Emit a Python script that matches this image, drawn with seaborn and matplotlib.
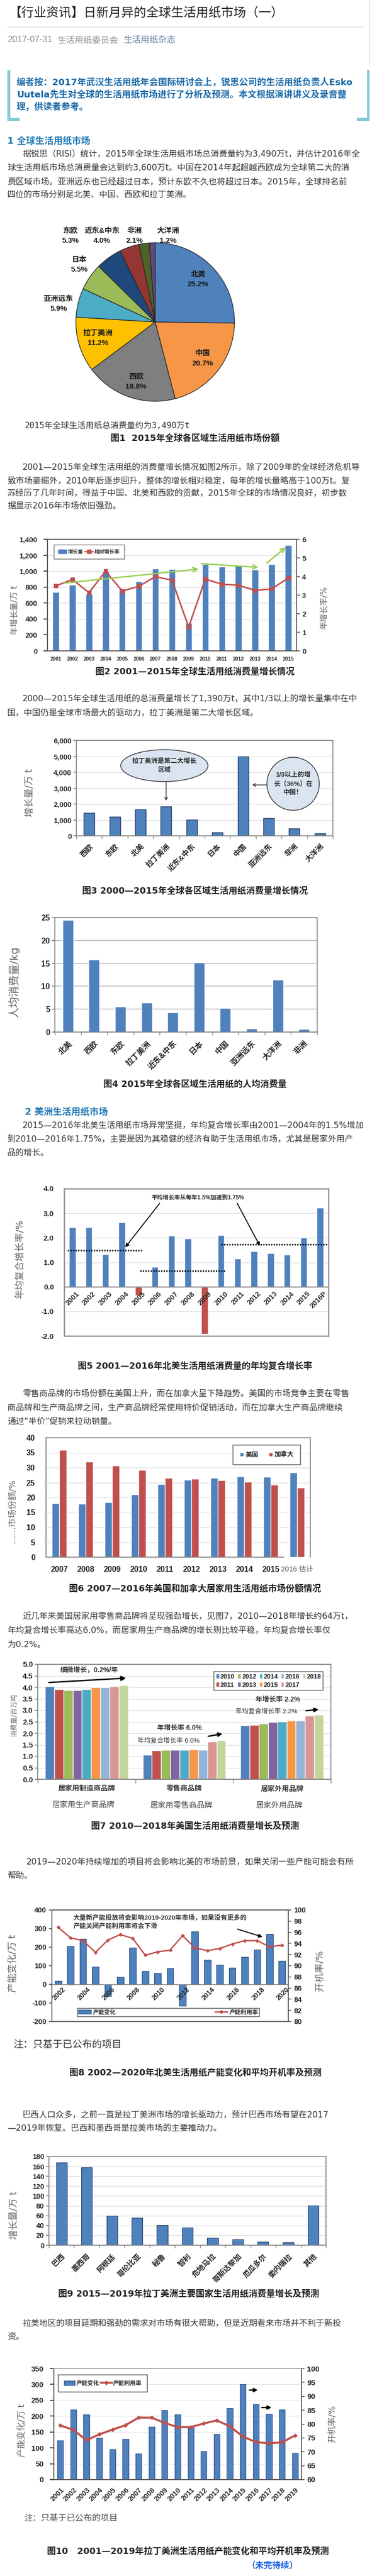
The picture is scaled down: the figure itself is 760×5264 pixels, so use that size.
import matplotlib
matplotlib.use("Agg")
import matplotlib.pyplot as plt
import matplotlib.transforms as mtransforms
from matplotlib.patches import Ellipse, Patch, Rectangle
from matplotlib.lines import Line2D
from matplotlib.font_manager import FontProperties
import seaborn as sns
import pandas as pd
import numpy as np

# ---------------- values ----------------
# fig1 - share of world tissue consumption 2015 (%)
pie_regions = ["北美", "中国", "西欧", "拉丁美洲", "亚洲远东", "日本", "东欧", "近东&中东", "非洲", "大洋洲"]
pie_shares = [25.2, 20.7, 18.8, 11.2, 5.9, 5.5, 5.3, 4.0, 2.1, 1.2]

# fig2 - yearly growth (bars, left) and growth rate (line, right)
years2 = [str(y) for y in range(2001, 2016)]
growth2 = [735, 830, 714, 995, 780, 874, 1034, 1025, 350, 1088, 1056, 1077, 1021, 1088, 1329]
rate2 = [3.49, 3.84, 3.13, 4.28, 3.22, 3.47, 3.99, 3.80, 1.28, 3.86, 3.58, 3.53, 3.25, 3.33, 3.92]

# fig3 - growth 2000-2015 by region
regions3 = ["西欧", "东欧", "北美", "拉丁美洲", "近东&中东", "日本", "中国", "亚洲远东", "非洲", "大洋洲"]
growth3 = [1455, 1185, 1650, 1835, 1010, 215, 4980, 1095, 465, 145]

# fig4 - per capita consumption 2015 (kg)
regions4 = ["北美", "西欧", "东欧", "拉丁美洲", "近东&中东", "日本", "中国", "亚洲远东", "大洋洲", "非洲"]
percap4 = [24.5, 15.8, 5.6, 6.4, 4.3, 15.2, 5.25, 0.8, 11.4, 0.6]

# fig5 - North America CAGR (%)
years5 = [str(y) for y in range(2001, 2016)] + ["2016P"]
cagr5 = [2.43, 2.42, 1.32, 2.63, -0.34, 0.81, 2.09, 1.97, -1.92, 2.11, 1.14, 1.45, 1.36, 1.31, 2.01, 3.22]
avg5 = [1.48, 0.66, 1.73]
avg5_from = [-0.3, 4.1, 9.0]
avg5_to = [4.2, 9.3, 15.5]

# fig6 - retail brand share, US vs Canada (%)
years6 = [str(y) for y in range(2007, 2016)] + ["2016 估计"]
us6 = [18.0, 17.9, 18.4, 21.0, 24.4, 25.9, 26.6, 27.0, 26.9, 28.3]
ca6 = [35.9, 31.9, 30.7, 29.2, 26.5, 26.2, 25.8, 25.2, 24.3, 23.2]

# fig7 - US consumption by segment
years7 = [str(y) for y in range(2010, 2019)]
groups7 = ["居家用制造商品牌", "零售商品牌", "居家外用品牌"]
groups7_cn = ["居家用生产商品牌", "居家用零售商品牌", "居家外用品牌"]
mfr7 = [4.04, 3.91, 3.88, 3.87, 3.91, 3.99, 4.01, 4.05, 4.09]
retail7 = [1.06, 1.25, 1.28, 1.28, 1.28, 1.30, 1.28, 1.63, 1.70]
afh7 = [2.34, 2.37, 2.42, 2.48, 2.52, 2.56, 2.56, 2.77, 2.80]

# fig8 - North America capacity change and utilisation
years8 = [str(y) for y in range(2002, 2021)]
cap8 = [19, 205, 245, 94, -62, 40, 198, 70, 60, 87, -115, 284, 132, 106, 89, 148, 187, 271, 126]
util8 = [96.9, 95.0, 94.5, 92.4, 94.6, 95.6, 94.9, 91.9, 92.5, 92.8, 95.4, 93.2, 92.7, 93.1, 93.9, 94.5, 94.5, 93.4, 93.7]

# fig9 - Latin America growth by country
countries9 = ["巴西", "墨西哥", "阿根廷", "哥伦比亚", "秘鲁", "智利", "危地马拉", "哥斯达黎加", "厄瓜多尔", "委内瑞拉", "其他"]
growth9 = [168, 158, 60, 56, 41, 36, 15, 11.5, 6.5, 5.5, 81]

# fig10 - Latin America capacity change and utilisation
years10 = [str(y) for y in range(2001, 2020)]
cap10 = [123, 221, 205, 131, 95, 128, 81, 166, 219, 205, 168, 89, 144, 225, 301, 238, 207, 221, 83]
util10 = [79.5, 77.9, 74.2, 76.3, 78.0, 79.6, 82.3, 82.3, 80.4, 78.9, 78.9, 80.2, 81.3, 79.2, 75.5, 73.5, 73.1, 73.4, 75.9]

# ---------------- style ----------------
W, H = 760, 5264
BLUE = "#4f81bd"
RED = "#c0504d"
TXT = "#333333"
HEAD = "#1f78b4"
CJK = "Noto Sans CJK SC"
BODY = ["DejaVu Sans", CJK]
CHART = ["Liberation Sans", CJK]
MONO = ["DejaVu Sans Mono", CJK]
pie_colors = ["#4f81bd", "#f79646", "#7f7f7f", "#ffc000", "#4bacc6", "#9bbb59", "#1f497d", "#943634", "#4f6228", "#5f497a"]
colors7 = ["#4f81bd", "#c0504d", "#9bbb59", "#8064a2", "#4bacc6", "#f79646", "#95b3d7", "#d99694", "#c3d69b"]

sns.set_theme(style="white")
plt.rcParams["font.family"] = BODY
plt.rcParams["axes.unicode_minus"] = False

fig = plt.figure(figsize=(W / 100, H / 100), dpi=100, facecolor="white")


def fx(x):
    return x / W


def fy(y):
    return 1 - y / H


def put(x, y, s, size=12.3, color=TXT, weight="normal", ha="left", va="center", family=BODY, rotation=0, **kw):
    fig.text(fx(x), fy(y), s, fontsize=size, color=color, fontweight=weight, ha=ha, va=va,
             family=family, rotation=rotation, **kw)


def add_ax(x0, y0, x1, y1):
    return fig.add_axes([fx(x0), fy(y1), (x1 - x0) / W, (y1 - y0) / H])


def box(x0, y0, x1, y1, color):
    fig.add_artist(Rectangle((fx(x0), fy(y1)), (x1 - x0) / W, (y1 - y0) / H,
                             transform=fig.transFigure, color=color, lw=0))


def paragraph(lines, ys, x_first=46, x_rest=15):
    for i, (s, y) in enumerate(zip(lines, ys)):
        put(x_first if i == 0 else x_rest, y, s)


def caption(s, y, x=398):
    put(x, y, s, size=13, weight="bold", ha="center", color="#222222")


def ylab(x, y, s, size=13):
    put(x, y, s, size=size, color="#666666", ha="center", rotation=90)


def frame(ax, color="#7f7f7f", lw=1.0, sides=("left", "bottom", "right", "top")):
    for k, sp in ax.spines.items():
        sp.set_visible(k in sides)
        sp.set_color(color)
        sp.set_linewidth(lw)


def grid(ax, color="#d9d9d9", lw=0.8):
    ax.yaxis.grid(True, color=color, lw=lw)
    ax.xaxis.grid(False)
    ax.set_axisbelow(True)


def fonts(ax, size=10.5, axis="both", weight="bold"):
    labs = []
    if axis in ("x", "both"):
        labs += ax.get_xticklabels()
    if axis in ("y", "both"):
        labs += ax.get_yticklabels()
    for t in labs:
        t.set_fontsize(size)
        t.set_fontweight(weight)
        t.set_fontfamily(CHART)
        t.set_color("#262626")


def boundary_ticks(ax, n, length=4):
    ax.set_xticks(np.arange(-0.5, n, 1.0), minor=True)
    ax.tick_params(axis="x", which="minor", bottom=True, length=length, width=1, color="#808080")
    ax.tick_params(axis="x", which="major", bottom=False)


def arrow(ax, start, end, color="black", lw=1.5, style="-|>", ms=12):
    ax.annotate("", xy=end, xytext=start,
                arrowprops=dict(arrowstyle=style, color=color, lw=lw, mutation_scale=ms, shrinkA=0, shrinkB=0))


def fp(size, weight="bold", family=CHART):
    return FontProperties(family=family, weight=weight, size=size)


# ---------------- header ----------------
put(19, 27, "【行业资讯】日新月异的全球生活用纸市场（一）", size=18.4, color="#222222")
box(15, 54, 745, 55.5, "#e6e6e6")
box(754, 0, 755.5, 135, "#e6e6e6")
put(15, 82, "2017-07-31", size=13, color="#8c8c8c", family=["Liberation Sans", CJK])
put(117, 82, "生活用纸委员会", size=12.8, color="#8c8c8c")
put(252, 82, "生活用纸杂志", size=12.8, color="#607fa6")

# editor's note box
NOTE = "#84c8d3"
box(15, 143, 20.5, 247, NOTE)
box(15, 241, 40, 247, NOTE)
box(749.5, 143, 755, 247, NOTE)
box(729, 241, 755, 247, NOTE)
note_lines = ["编者按：2017年武汉生活用纸年会国际研讨会上，锐思公司的生活用纸负责人Esko",
              "Uutela先生对全球的生活用纸市场进行了分析及预测。本文根据演讲讲义及录音整",
              "理，供读者参考。"]
for s, y in zip(note_lines, [168, 193, 218]):
    put(34, y, s, size=13.2, weight="bold", color="#1a6aa8")

put(15, 288, "1 全球生活用纸市场", size=13.5, weight="bold", color=HEAD)
paragraph(["据锐思（RISI）统计，2015年全球生活用纸市场总消费量约为3,490万t，并估计2016年全",
           "球生活用纸市场总消费量会达到约3,600万t。中国在2014年起超越西欧成为全球第二大的消",
           "费区域市场。亚洲远东也已经超过日本，预计东欧不久也将超过日本。2015年，全球排名前",
           "四位的市场分别是北美、中国、西欧和拉丁美洲。"], [315, 343, 372, 398])

# ---------------- fig 1 pie ----------------
ax = add_ax(155, 496, 479, 820)
ax.pie(pie_shares, colors=pie_colors, startangle=90, counterclock=False,
       wedgeprops=dict(edgecolor="#262626", linewidth=1.0))
ax.set_xlim(-1, 1)
ax.set_ylim(-1, 1)
pie_label_xy = [(0.54, 0.54), (0.60, -0.46), (-0.24, -0.75), (-0.72, -0.20), (-1.22, 0.23),
                (-0.96, 0.72), (-1.07, 1.09), (-0.67, 1.09), (-0.26, 1.09), (0.16, 1.09)]
for name, v, (lx, ly) in zip(pie_regions, pie_shares, pie_label_xy):
    ax.text(lx, ly, f"{name}\n{v:.1f}%", ha="center", va="center", fontsize=11, fontweight="bold",
            family=CHART, color="#1a1a1a", linespacing=1.55)
put(51, 870, "2015年全球生活用纸总消费量约为3,490万t", size=12.2, family=MONO, color="#333333")
caption("图1  2015年全球各区域生活用纸市场份额", 897)

paragraph(["2001—2015年全球生活用纸的消费量增长情况如图2所示，除了2009年的全球经济危机导",
           "致市场萎缩外，2010年后逐步回升，整体的增长相对稳定，每年的增长量略高于100万t。复",
           "苏经历了几年时间，得益于中国、北美和西欧的贡献，2015年全球的市场情况良好，初步数",
           "据显示2016年市场依旧强劲。"], [955, 982, 1008, 1035])

# ---------------- fig 2 ----------------
ax = add_ax(97, 1102, 606, 1330)
sns.barplot(x=years2, y=growth2, color=BLUE, width=0.4, saturation=1, errorbar=None, ax=ax)
ax.set_ylim(0, 1400)
ax.set_yticks(range(0, 1401, 200), [f"{v:,}" for v in range(0, 1401, 200)])
grid(ax)
frame(ax, "#595959", 1.2)
ax.tick_params(axis="y", left=False, pad=9)
ax.tick_params(axis="x", bottom=False, pad=3)
axr = ax.twinx()
sns.lineplot(x=np.arange(len(years2)), y=rate2, ax=axr, color=RED, marker="s", markersize=6,
             markeredgecolor=RED, linewidth=2.2)
axr.set_ylim(0, 6)
axr.set_yticks(range(0, 7))
axr.tick_params(axis="y", right=True, length=5, width=1.2, color="#595959", pad=3)
frame(axr, "#595959", 1.2)
ax.set_xlim(-0.5, len(years2) - 0.5)
fonts(ax, 10.5, "y")
fonts(ax, 7.5, "x")
fonts(axr, 10.5, "y")
for start, end in [((0.5, 3.64), (8.6, 4.4)), ((8.75, 4.69), (12.2, 4.49)), ((12.7, 4.72), (13.85, 5.57))]:
    arrow(axr, start, end, color="#9acd50", lw=2, style="->", ms=16)
axr.legend([Patch(color=BLUE), Line2D([0], [0], color=RED, marker="s", lw=2)], ["增长量", "相对增长率"],
           loc="upper left", bbox_to_anchor=(0.015, 0.975), ncol=2, frameon=True, fancybox=False,
           edgecolor="#404040", prop=fp(7.5), handlelength=1.6, columnspacing=0.3, handletextpad=0.3,
           borderpad=0.9).get_frame().set_linewidth(1.0)
ylab(29, 1247, "年增长量/万 t", 12)
ylab(662, 1242, "年增长率/%", 12)
caption("图2 2001—2015年全球生活用纸消费量增长情况", 1373)

paragraph(["2000—2015年全球生活用纸的总消费量增长了1,390万t，其中1/3以上的增长量集中在中",
           "国，中国仍是全球市场最大的驱动力，拉丁美洲是第二大增长区域。"], [1428, 1457])

# ---------------- fig 3 ----------------
ax = add_ax(156, 1513, 680, 1708)
sns.barplot(x=regions3, y=growth3, color=BLUE, width=0.42, saturation=1, edgecolor="#1f3864",
            linewidth=1, errorbar=None, ax=ax)
ax.set_ylim(0, 6000)
ax.set_yticks(range(0, 6001, 1000), [f"{v:,}" for v in range(0, 6001, 1000)])
grid(ax)
frame(ax, "#808080", 1.2)
ax.tick_params(axis="y", left=True, length=4, color="#808080", pad=3)
boundary_ticks(ax, len(regions3))
ax.set_xticks(range(len(regions3)), regions3, rotation=45, ha="right", rotation_mode="anchor")
ax.tick_params(axis="x", which="major", pad=4)
fonts(ax, 10.5, "y")
fonts(ax, 11, "x")
ax.add_patch(Ellipse((2.93, 4414), 3.4, 2006, facecolor="#dbe5f1", edgecolor="#404040", lw=1.2))
ax.text(2.93, 4414, "拉丁美洲是第二大增长\n区域", ha="center", va="center", fontsize=9.5,
        fontweight="bold", family=CHART, color="#262626", linespacing=1.7)
ax.add_patch(Ellipse((7.95, 3272), 2.04, 3333, facecolor="#dbe5f1", edgecolor="#404040", lw=1.2))
ax.text(7.95, 3272, "1/3以上的增\n长（36%）在\n中国！", ha="center", va="center", fontsize=9.5,
        fontweight="bold", family=CHART, color="#262626", linespacing=1.6)
arrow(ax, (3.0, 3410), (3.0, 2200), color="#404040", lw=1.2, style="->", ms=10)
arrow(ax, (6.93, 3200), (6.35, 3200), color="#404040", lw=1.2, style="->", ms=10)
ylab(61, 1620, "增长量/万 t", 14)
caption("图3 2000—2015年全球各区域生活用纸消费量增长情况", 1822)

# ---------------- fig 4 ----------------
ax = add_ax(112, 1875, 648, 2109)
sns.barplot(x=regions4, y=percap4, color=BLUE, width=0.41, saturation=1, errorbar=None, ax=ax)
ax.set_ylim(0, 25)
ax.set_yticks(range(0, 26, 5))
grid(ax, "#bfbfbf", 1.3)
frame(ax, "#808080", 1.3)
ax.tick_params(axis="y", left=True, length=4, color="#808080", pad=3)
boundary_ticks(ax, len(regions4))
ax.set_xticks(range(len(regions4)), regions4, rotation=45, ha="right", rotation_mode="anchor")
ax.tick_params(axis="x", which="major", pad=5)
fonts(ax, 11.5, "y")
fonts(ax, 11.5, "x")
ylab(29, 2007, "人均消费量/kg", 16)
caption("图4 2015年全球各区域生活用纸的人均消费量", 2217)

put(51, 2272, "2 美洲生活用纸市场", size=13.5, weight="bold", color=HEAD)
paragraph(["2015—2016年北美生活用纸市场异常坚挺，年均复合增长率由2001—2004年的1.5%增加",
           "到2010—2016年1.75%，主要是因为其稳健的经济有助于生活用纸市场，尤其是居家外用产",
           "品的增长。"], [2300, 2328, 2356])

# ---------------- fig 5 ----------------
ax = add_ax(131, 2429, 671, 2730)
colors5 = [RED if v < 0 else BLUE for v in cagr5]
sns.barplot(x=years5, y=cagr5, hue=years5, palette=colors5, legend=False, width=0.4, saturation=1,
            errorbar=None, ax=ax)
ax.set_ylim(-2, 4)
ax.set_yticks(range(-2, 5), [f"{v:.1f}" for v in range(-2, 5)])
grid(ax)
frame(ax, "#8c8c8c", 1.8)
ax.axhline(0, color="#7f7f7f", lw=1.5)
ax.tick_params(axis="y", left=False, pad=9)
ax.set_xticks(range(len(years5)), [""] * len(years5))
ax.tick_params(axis="x", bottom=False)
fonts(ax, 11, "y")
for i, y in enumerate(years5):
    ax.text(i + 0.2, -0.14, y, rotation=45, ha="right", va="top", rotation_mode="anchor",
            fontsize=10.5, fontweight="bold", family=CHART, color="#262626")
for lo, hi, v in zip(avg5_from, avg5_to, avg5):
    ax.hlines(v, lo, hi, colors="black", linestyles=(0, (0.75, 0.85)), lw=2.4)
ax.text(7.59, 3.62, "平均增长率从每年1.5%加速到1.75%", ha="center", va="center", fontsize=8.5,
        fontweight="bold", family=CHART, color="#262626")
arrow(ax, (5.28, 3.40), (3.2, 1.61), lw=1.4, ms=11)
arrow(ax, (9.98, 3.40), (11.35, 1.67), lw=1.4, ms=11)
ax.set_xlim(-0.5, len(years5) - 0.5)
ylab(41, 2573, "年均复合增长率/%", 14)
caption("图5 2001—2016年北美生活用纸消费量的年均复合增长率", 2793)

paragraph(["零售商品牌的市场份额在美国上升，而在加拿大呈下降趋势。美国的市场竞争主要在零售",
           "商品牌和生产商品牌之间，生产商品牌经常使用特价促销活动，而在加拿大生产商品牌继续",
           "通过“半价”促销来拉动销量。"], [2848, 2877, 2906])

# ---------------- fig 6 ----------------
ax = add_ax(94, 2938, 634, 3182)
df6 = pd.DataFrame({"year": years6 * 2,
                    "country": ["美国"] * len(years6) + ["加拿大"] * len(years6),
                    "share": us6 + ca6})
sns.barplot(data=df6, x="year", y="share", hue="country", palette=[BLUE, RED], width=0.56,
            saturation=1, errorbar=None, ax=ax)
ax.set_xlabel("")
ax.set_ylabel("")
ax.set_ylim(0, 40)
ax.set_yticks(range(0, 41, 5))
grid(ax)
frame(ax, "#808080", 1.3)
ax.spines["bottom"].set_bounds(-0.5, 8.5)
ax.tick_params(axis="y", left=False, pad=10)
ax.tick_params(axis="x", bottom=False, pad=7)
fonts(ax, 11.5, "y")
fonts(ax, 11.5, "x")
last = ax.get_xticklabels()[-1]
last.set_fontweight("normal")
last.set_fontsize(10.5)
last.set_color("#555555")
h, l = ax.get_legend_handles_labels()
ax.legend(h, l, loc="upper right", bbox_to_anchor=(0.975, 0.965), ncol=2, frameon=True, fancybox=False,
          edgecolor="#404040", prop=fp(9.5), handlelength=0.6, handleheight=0.6, handletextpad=0.3,
          columnspacing=1.6, borderpad=1.0).get_frame().set_linewidth(1.2)
ylab(24, 3087, "……市场份额/%", 13)
caption("图6 2007—2016年美国和加拿大居家用生活用纸市场份额情况", 3247)

paragraph(["近几年来美国居家用零售商品牌将呈现强劲增长，见图7，2010—2018年增长约64万t，",
           "年均复合增长率高达6.0%，而居家用生产商品牌的增长则比较平稳，年均复合增长率仅",
           "为0.2%。"], [3303, 3332, 3361])

# ---------------- fig 7 ----------------
ax = add_ax(77, 3401, 676, 3636)
df7 = pd.DataFrame({"group": np.repeat(groups7, len(years7)),
                    "year": years7 * 3,
                    "value": mfr7 + retail7 + afh7})
sns.barplot(data=df7, x="group", y="value", hue="year", palette=colors7, width=0.85, saturation=1,
            errorbar=None, ax=ax)
ax.set_xlabel("")
ax.set_ylabel("")
ax.set_ylim(0, 5)
ax.set_yticks(np.arange(0, 5.01, 0.5), [f"{v:.1f}" for v in np.arange(0, 5.01, 0.5)])
grid(ax)
frame(ax, "#808080", 1.3)
ax.tick_params(axis="y", left=True, length=4, color="#808080", pad=3)
ax.set_xticks(range(3), [""] * 3)
boundary_ticks(ax, 3, length=6)
fonts(ax, 11, "y")
h, l = ax.get_legend_handles_labels()
ax.legend(h, l, loc="upper right", bbox_to_anchor=(0.985, 0.965), ncol=5, frameon=True, fancybox=False,
          edgecolor="#404040", prop=fp(9.5), handlelength=0.5, handleheight=0.7, handletextpad=0.15,
          columnspacing=0.45, borderpad=0.35, labelspacing=0.35).get_frame().set_linewidth(1.2)
trans = mtransforms.blended_transform_factory(ax.transData, ax.transAxes)
for i in range(3):
    ax.text(i, -0.085, groups7[i], transform=trans, ha="center", va="center", fontsize=10.5,
            fontweight="bold", family=CHART, color="#333333")
    ax.text(i - 0.03, -0.225, groups7_cn[i], transform=trans, ha="center", va="center", fontsize=11.5,
            family=BODY, color="#444444")
notes7 = [("细微增长，0.2%/年", 0.025, 4.74, "bold", 10),
          ("年增长率 2.2%", 1.955, 3.47, "bold", 10),
          ("年均复合增长率 2.2%", 1.84, 2.94, "normal", 9.5),
          ("年增长率 6.0%", 0.95, 2.23, "bold", 10),
          ("年均复合增长率 6.0%", 0.84, 1.66, "normal", 9.5)]
for s, tx, ty, wt, sz in notes7:
    ax.text(tx, ty, s, ha="center", va="center", fontsize=sz, fontweight=wt, family=CHART, color="#333333")
arrow(ax, (-0.385, 4.21), (0.405, 4.40), lw=2, ms=14)
arrow(ax, (2.245, 2.98), (2.375, 3.04), lw=2, ms=12)
arrow(ax, (1.245, 1.87), (1.39, 1.98), lw=2, ms=12)
ylab(29, 3505, "消费量/百万吨", 10)
caption("图7 2010—2018年美国生活用纸消费量增长及预测", 3732)

put(54, 3805, "2019—2020年持续增加的项目将会影响北美的市场前景，如果关闭一些产能可能会有所")
put(15, 3833, "帮助。")

# ---------------- fig 8 ----------------
ax = add_ax(106, 3903, 589, 4131)
sns.barplot(x=years8, y=cap8, color=BLUE, width=0.54, saturation=1, edgecolor="#1f497d", linewidth=0.8,
            errorbar=None, ax=ax)
ax.set_ylim(-200, 400)
ax.set_yticks(range(-200, 401, 100))
frame(ax, "#595959", 1.3)
ax.axhline(0, color="#7f7f7f", lw=1)
ax.tick_params(axis="y", left=True, length=4, color="#595959", pad=4)
ax.set_xticks(range(len(years8)), [""] * len(years8))
ax.tick_params(axis="x", bottom=False)
for i, y in enumerate(years8):
    if i % 2 == 0:
        ax.text(i + 0.3, -8, y, rotation=45, ha="right", va="top", rotation_mode="anchor",
                fontsize=10, fontweight="bold", family=CHART, color="#262626")
axr = ax.twinx()
sns.lineplot(x=np.arange(len(years8)), y=util8, ax=axr, color=RED, marker="D", markersize=3.5,
             markeredgecolor=RED, linewidth=2)
axr.set_ylim(80, 100)
axr.set_yticks(range(80, 101, 2))
axr.tick_params(axis="y", right=True, length=4, color="#595959", pad=4)
frame(axr, "#595959", 1.3)
ax.set_xlim(-0.5, len(years8) - 0.5)
fonts(ax, 10.5, "y")
fonts(axr, 10.5, "y")
axr.text(1.23, 99.1, "大量新产能投放将会影响2019-2020年市场，如果没有更多的\n产能关闭产能利用率将会下滑",
         ha="left", va="top", fontsize=9.5, fontweight="bold", family=CHART, color="#333333", linespacing=1.35)
arrow(ax, (14.42, 297), (16.43, 255), lw=1.5, ms=11)
axr.legend([Patch(facecolor=BLUE, edgecolor="#1f497d"), Line2D([0], [0], color=RED, marker="D", ms=3.5, lw=2)],
           ["产能变化", "产能利用率"], loc="lower left", bbox_to_anchor=(0.095, 0.02, 0.795, 0.08),
           mode="expand", ncol=2, frameon=True, fancybox=False, edgecolor="#404040", prop=fp(8.5),
           handlelength=2.2, handletextpad=0.3, borderpad=0.2).get_frame().set_linewidth(1.2)
ylab(27, 4012, "产能变化/万 t", 14)
ylab(653, 4027, "开机率/%", 14)
put(27, 4178, "注：只基于已公布的项目", size=14.5, color="#333333")
caption("图8 2002—2020年北美生活用纸产能变化和平均开机率及预测", 4237, x=400)

put(46, 4322, "巴西人口众多，之前一直是拉丁美洲市场的增长驱动力，预计巴西市场有望在2017")
put(15, 4349, "—2019年恢复。巴西和墨西哥是拉美市场的主要推动力。")

# ---------------- fig 9 ----------------
ax = add_ax(100, 4407, 666, 4588)
sns.barplot(x=countries9, y=growth9, color=BLUE, width=0.43, saturation=1, edgecolor="#1f3864",
            linewidth=0.8, errorbar=None, ax=ax)
ax.set_ylim(0, 180)
ax.set_yticks(range(0, 181, 20))
grid(ax)
frame(ax, "#808080", 1.3)
ax.tick_params(axis="y", left=True, length=4, color="#808080", pad=3)
boundary_ticks(ax, len(countries9))
ax.set_xticks(range(len(countries9)), countries9, rotation=45, ha="right", rotation_mode="anchor")
ax.tick_params(axis="x", which="major", pad=5)
fonts(ax, 10.5, "y")
fonts(ax, 11, "x")
ylab(29, 4527, "增长量/万 t", 14)
caption("图9 2015—2019年拉丁美洲主要国家生活用纸消费量增长及预测", 4688, x=385)

paragraph(["拉美地区的项目延期和强劲的需求对市场有很大帮助，但是近期看来市场并不利于新投",
           "资。"], [4747, 4775])

# ---------------- fig 10 ----------------
ax = add_ax(110, 4840, 616, 5067)
sns.barplot(x=years10, y=cap10, color=BLUE, width=0.46, saturation=1, edgecolor="#2f528f", linewidth=0.8,
            errorbar=None, ax=ax)
ax.set_ylim(0, 350)
ax.set_yticks(range(0, 351, 50))
grid(ax, "#e3e3e3", 0.8)
frame(ax, "#595959", 1.3)
ax.spines["top"].set_color("#a6a6a6")
ax.tick_params(axis="y", left=False, pad=9)
ax.set_xticks(range(len(years10)), years10, rotation=45, ha="right", rotation_mode="anchor")
ax.tick_params(axis="x", bottom=False, pad=4)
axr = ax.twinx()
sns.lineplot(x=np.arange(len(years10)), y=util10, ax=axr, color=RED, marker="D", markersize=4,
             markeredgecolor=RED, linewidth=3)
axr.set_ylim(60, 100)
axr.set_yticks(range(60, 101, 5))
axr.tick_params(axis="y", right=True, length=4, color="#595959", pad=4)
frame(axr, "#595959", 1.3)
axr.spines["top"].set_color("#a6a6a6")
ax.set_xlim(-0.5, len(years10) - 0.5)
fonts(ax, 11, "y")
fonts(ax, 10.5, "x")
fonts(axr, 11, "y")
arrow(ax, (14.5, 282), (15.15, 282), lw=2, ms=11)
arrow(ax, (15.45, 227), (16.2, 227), lw=2, ms=11)
axr.legend([Patch(facecolor=BLUE, edgecolor="#2f528f"), Line2D([0], [0], color=RED, marker="D", ms=4, lw=3)],
           ["产能变化", "产能利用率"], loc="upper left", bbox_to_anchor=(0.006, 0.97), ncol=2, frameon=True,
           fancybox=False, edgecolor="#404040", prop=fp(8.5), handlelength=1.9, handletextpad=0.2,
           columnspacing=0.3, borderpad=1.0).get_frame().set_linewidth(1.3)
ylab(44, 4967, "产能变化/万 t", 13)
ylab(680, 4953, "开机率/%", 13)
put(49, 5145, "注：只基于已公布的项目", size=12.5, color="#444444")
caption("图10   2001—2019年拉丁美洲生活用纸产能变化和平均开机率及预测", 5215, x=384)
put(557, 5243, "（未完待续）", size=12.5, weight="bold", color="#1a5fe0", ha="center")

fig.savefig("out.png", dpi=100, facecolor="white")
